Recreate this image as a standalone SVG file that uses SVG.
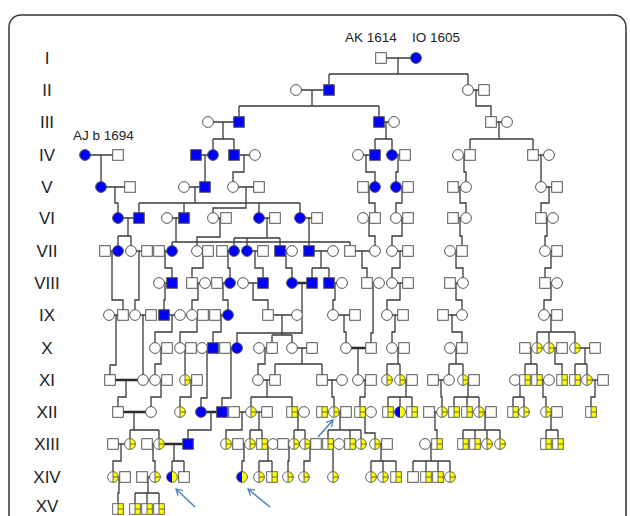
<svg xmlns="http://www.w3.org/2000/svg" xmlns:xlink="http://www.w3.org/1999/xlink" width="630" height="516" viewBox="0 0 630 516">
<style>
.l{fill:none;stroke:#3a3a3a;stroke-width:1.3}
.t{fill:none;stroke:#2a2a2a;stroke-width:2.4}
.s{fill:#fff;stroke:#555;stroke-width:1}
.b{fill:#0000ff}
.k{fill:none;stroke:#555;stroke-width:0.9}
.lab{font-family:"Liberation Sans",Arial,sans-serif;font-size:17px;fill:#222;text-anchor:middle}
.nm{font-family:"Liberation Sans",Arial,sans-serif;font-size:13.5px;fill:#222}
.ar{fill:none;stroke:#4f81bd;stroke-width:1.6}
</style>
<defs>
<g id="S"><rect class="s" x="-5.3" y="-5.3" width="10.6" height="10.6"/></g>
<g id="BS"><rect class="s b" x="-5.3" y="-5.3" width="10.6" height="10.6"/></g>
<g id="C"><circle class="s" r="5.4"/></g>
<g id="BC"><circle class="s b" r="5.4"/></g>
<g id="YS"><rect x="-5.3" y="-5.3" width="10.6" height="10.6" fill="#fff"/><rect x="0" y="-5.3" width="5.3" height="10.6" fill="#ffff00"/><path class="k" d="M0,-5.3V5.3M0,0H5.3"/><rect class="k" x="-5.3" y="-5.3" width="10.6" height="10.6"/></g>
<g id="YC"><circle r="5.4" fill="#fff"/><path d="M0,-5.4A5.4,5.4 0 0 1 0,5.4Z" fill="#ffff00"/><path class="k" d="M0,-5.4V5.4M0,0H5.4"/><circle class="k" r="5.4"/></g>
<g id="BY"><path d="M0,-5.4A5.4,5.4 0 0 0 0,5.4Z" fill="#0000ff"/><path d="M0,-5.4A5.4,5.4 0 0 1 0,5.4Z" fill="#ffff00"/><circle class="k" r="5.4"/></g>
<marker id="ah" viewBox="0 0 10 10" refX="8" refY="5" markerWidth="9" markerHeight="9" orient="auto" markerUnits="userSpaceOnUse"><path d="M1,1L8,5L1,9" fill="none" stroke="#4f81bd" stroke-width="1.4"/></marker>
</defs>
<rect x="9" y="15" width="617" height="530" rx="12" fill="#fff" stroke="#333" stroke-width="1.5"/>
<g id="gen-labels">
<text class="lab" x="47" y="64">I</text>
<text class="lab" x="47" y="96">II</text>
<text class="lab" x="47" y="128">III</text>
<text class="lab" x="47" y="161">IV</text>
<text class="lab" x="47" y="193">V</text>
<text class="lab" x="47" y="224">VI</text>
<text class="lab" x="47" y="257">VII</text>
<text class="lab" x="47" y="289">VIII</text>
<text class="lab" x="47" y="321">IX</text>
<text class="lab" x="47" y="354">X</text>
<text class="lab" x="47" y="386">XI</text>
<text class="lab" x="47" y="418">XII</text>
<text class="lab" x="47" y="450">XIII</text>
<text class="lab" x="47" y="483">XIV</text>
<text class="lab" x="47" y="512" font-size="16">XV</text>
</g>
<g id="names">
<text class="nm" x="345" y="42">AK 1614</text>
<text class="nm" x="412" y="42">IO 1605</text>
<text class="nm" x="73" y="140">AJ b 1694</text>
</g>
<g id="connectors">
<path class="l" d="M381,58H416 M296,90H329 M468,90H484 M208,122H239 M379,122H394 M491,122H507
M85,155H118 M196,155H213 M234,155H255 M358,155H375 M392,155H405 M458,155H470 M533,155H549
M101,187H130 M184,187H205 M233,187H259 M363,187H375 M396,187H408 M453,187H466 M541,187H557
M118,218H139 M167,218H184 M213,218H226 M259,218H275 M300,218H317 M363,218H375 M396,218H408 M453,218H466 M541,218H553
M105,251H118 M131,251H147 M159,251H172 M197,251H208 M222,251H234 M247,251H263 M280,251H292 M309,251H333 M350,251H375 M392,251H408 M450,251H462 M545,251H557
M159,283H172 M192,283H205 M217,283H230 M243,283H263 M329,283H342 M367,283H379 M392,283H408 M450,283H463 M545,283H557
M109,315H123 M135,315H151 M164,315H180 M192,315H203 M215,315H228 M268,315H297 M333,315H355 M387,315H403 M443,315H462 M544,315H557
M155,348H167 M180,348H191 M202,348H213 M225,348H237 M259,348H272 M292,348H312 M346,348H371 M392,348H404 M450,348H462 M525,348H537 M549,348H562 M575,348H595
M155,380H167 M185,380H197 M258,380H275 M322,380H342 M358,380H371 M400,380H412 M433,380H449 M463,380H474 M515,380H525 M537,380H549 M587,380H603
M234,412H267 M292,412H304 M322,412H346 M360,412H371 M429,412H442 M479,412H491 M546,412H557
M113,444H130 M147,444H159 M238,444H250 M262,444H273 M283,444H294 M305,444H316 M328,444H339 M375,444H387 M425,444H437
M113,477H125 M142,477H155"/>
<path class="t" d="M292,283H312 M110,380H143 M118,412H151 M201,412H222 M159,444H188 M346,348H371"/>
<path class="l" d="M398,58V74 M329,74H468 M329,74V90 M468,74V90
M312,90V106 M239,106H379 M239,106V122 M379,106V122 M476,90V106H491V122
M223,122V139 M213,139H234 M213,139V155 M234,139V155 M386,122V139 M375,139H392 M375,139V155 M392,139V155 M499,122V139 M470,139H533 M470,139V155 M533,139V155
M101,155V187 M205,155V187 M244,155V172H233V187 M366,155V172H375V187 M398,155V172H396V187 M464,155V172H466V187 M541,155V187
M115,187V203H118V218 M195,187V203 M139,203H300 M139,203V218 M184,203V218 M259,203V218 M300,203V218 M246,187V208H213V218 M369,187V203H375V218 M402,187V203H396V218 M460,187V203H466V218 M549,187V203H541V218
M128,218V236 M118,236H131 M118,236V251 M131,236V251 M176,218V242 M172,242H350 M172,242V251 M350,242V251 M220,218V237H197V251 M267,218V238 M234,238H280 M234,238V251 M247,238V251 M280,238V251 M309,218V251 M369,218V236H375V251 M402,218V236H392V251 M460,218V236H462V251 M547,218V236H545V251
M165,251V268H172V283 M203,251V268H192V283 M228,251V268H230V283 M255,251V268H263V283 M286,251V268H292V283 M321,251V268 M312,268H329 M312,268V283 M329,268V283 M362,251V268H367V283 M400,251V268H392V283 M456,251V268H463V283 M551,251V268H545V283
M112,251V300H123V315 M139,251V300H135V315
M165,283V300H164V315 M198,283V300H192V315 M223,283V300H228V315 M253,283V300H268V315 M335,283V300H333V315 M400,283V300H387V315 M456,283V300H462V315 M551,283V300H544V315
M302,283V333H237V348 M373,283V333H371V348
M172,315V332H155V348 M197,315V332H180V348 M221,315V332H213V348 M282,315V335 M272,335H292 M272,335V348 M292,335V348 M344,315V332H346V348 M395,315V332H392V348 M452,315V332H462V348 M551,315V332 M537,332H575 M537,332V348 M549,332V348 M575,332V348
M116,315V365H110V380 M143,315V380
M161,348V364H155V380 M185,348V380 M265,348V364H258V380 M302,348V364 M275,364H322 M275,364V380 M322,364V380 M358,348V380 M398,348V364 M387,364H400 M387,364V380 M400,364V380 M456,348V364 M449,364H463 M449,364V380 M463,364V380 M531,348V364 M525,364H537 M525,364V380 M537,364V380 M555,348V364H562V380 M585,348V364 M575,364H587 M575,364V380 M587,364V380
M207,348V398H201V412 M231,348V398H222V412
M126,380V397H118V412 M161,380V397H151V412 M191,380V397H180V412 M267,380V397 M251,397H292 M251,397V412 M292,397V412 M332,380V397H334V412 M365,380V397H360V412 M406,380V397 M388,397H412 M388,397V412 M400,397V412 M412,397V412 M441,380V397H442V412 M468,380V397 M454,397H479 M454,397V412 M467,397V412 M479,397V412 M520,380V397 M513,397H524 M513,397V412 M524,397V412 M543,380V397H546V412 M595,380V397H591V412
M134,412V430 M130,430H159 M130,430V444 M159,430V444 M211,412V430H188V444 M242,412V430H226V444 M259,412V430 M250,430H262 M250,430V444 M262,430V444 M298,412V430 M294,430H305 M294,430V444 M305,430V444 M340,412V430 M328,430H361 M328,430V444 M350,430V444 M361,430V444 M365,412V433H375V444 M435,412V430H437V444 M485,412V430 M463,430H500 M463,430V444 M475,430V444 M487,430V444 M500,430V444 M551,412V430 M546,430H558 M546,430V444 M558,430V444
M121,444V461H113V477 M153,444V461H155V477 M174,444V461 M172,461H184 M172,461V477 M184,461V477 M244,444V461H242V477 M268,444V461 M259,461H272 M259,461V477 M272,461V477 M289,444V461H288V477 M310,444V461H304V477 M333,444V477 M381,444V461 M371,461H396 M371,461V477 M383,461V477 M396,461V477 M431,444V461 M413,461H450 M413,461V477 M426,461V477 M438,461V477 M450,461V477
M119,477V493H118V509 M148,477V493 M135,493H159 M135,493V509 M147,493V509 M159,493V509"/>
</g>
<g id="arrows">
<path class="ar" d="M195,507L176,489" marker-end="url(#ah)"/>
<path class="ar" d="M270,507L248,489" marker-end="url(#ah)"/>
<path class="ar" d="M318,437L333,420" marker-end="url(#ah)"/>
</g>
<g id="gen-I">
<g id="n1_381"><use href="#S" x="381" y="58"/></g>
<g id="n1_416"><use href="#BC" x="416" y="58"/></g>
</g>
<g id="gen-II">
<g id="n2_296"><use href="#C" x="296" y="90"/></g>
<g id="n2_329"><use href="#BS" x="329" y="90"/></g>
<g id="n2_468"><use href="#C" x="468" y="90"/></g>
<g id="n2_484"><use href="#S" x="484" y="90"/></g>
</g>
<g id="gen-III">
<g id="n3_208"><use href="#C" x="208" y="122"/></g>
<g id="n3_239"><use href="#BS" x="239" y="122"/></g>
<g id="n3_379"><use href="#BS" x="379" y="122"/></g>
<g id="n3_394"><use href="#C" x="394" y="122"/></g>
<g id="n3_491"><use href="#S" x="491" y="122"/></g>
<g id="n3_507"><use href="#C" x="507" y="122"/></g>
</g>
<g id="gen-IV">
<g id="n4_85"><use href="#BC" x="85" y="155"/></g>
<g id="n4_118"><use href="#S" x="118" y="155"/></g>
<g id="n4_196"><use href="#BS" x="196" y="155"/></g>
<g id="n4_213"><use href="#BC" x="213" y="155"/></g>
<g id="n4_234"><use href="#BS" x="234" y="155"/></g>
<g id="n4_255"><use href="#C" x="255" y="155"/></g>
<g id="n4_358"><use href="#C" x="358" y="155"/></g>
<g id="n4_375"><use href="#BS" x="375" y="155"/></g>
<g id="n4_392"><use href="#BC" x="392" y="155"/></g>
<g id="n4_405"><use href="#S" x="405" y="155"/></g>
<g id="n4_458"><use href="#C" x="458" y="155"/></g>
<g id="n4_470"><use href="#S" x="470" y="155"/></g>
<g id="n4_533"><use href="#S" x="533" y="155"/></g>
<g id="n4_549"><use href="#C" x="549" y="155"/></g>
</g>
<g id="gen-V">
<g id="n5_101"><use href="#BC" x="101" y="187"/></g>
<g id="n5_130"><use href="#S" x="130" y="187"/></g>
<g id="n5_184"><use href="#C" x="184" y="187"/></g>
<g id="n5_205"><use href="#BS" x="205" y="187"/></g>
<g id="n5_233"><use href="#C" x="233" y="187"/></g>
<g id="n5_259"><use href="#S" x="259" y="187"/></g>
<g id="n5_363"><use href="#S" x="363" y="187"/></g>
<g id="n5_375"><use href="#BC" x="375" y="187"/></g>
<g id="n5_396"><use href="#BC" x="396" y="187"/></g>
<g id="n5_408"><use href="#S" x="408" y="187"/></g>
<g id="n5_453"><use href="#S" x="453" y="187"/></g>
<g id="n5_466"><use href="#C" x="466" y="187"/></g>
<g id="n5_541"><use href="#C" x="541" y="187"/></g>
<g id="n5_557"><use href="#S" x="557" y="187"/></g>
</g>
<g id="gen-VI">
<g id="n6_118"><use href="#BC" x="118" y="218"/></g>
<g id="n6_139"><use href="#BS" x="139" y="218"/></g>
<g id="n6_167"><use href="#C" x="167" y="218"/></g>
<g id="n6_184"><use href="#BS" x="184" y="218"/></g>
<g id="n6_213"><use href="#C" x="213" y="218"/></g>
<g id="n6_226"><use href="#S" x="226" y="218"/></g>
<g id="n6_259"><use href="#BC" x="259" y="218"/></g>
<g id="n6_275"><use href="#S" x="275" y="218"/></g>
<g id="n6_300"><use href="#BC" x="300" y="218"/></g>
<g id="n6_317"><use href="#S" x="317" y="218"/></g>
<g id="n6_363"><use href="#C" x="363" y="218"/></g>
<g id="n6_375"><use href="#S" x="375" y="218"/></g>
<g id="n6_396"><use href="#C" x="396" y="218"/></g>
<g id="n6_408"><use href="#S" x="408" y="218"/></g>
<g id="n6_453"><use href="#S" x="453" y="218"/></g>
<g id="n6_466"><use href="#C" x="466" y="218"/></g>
<g id="n6_541"><use href="#S" x="541" y="218"/></g>
<g id="n6_553"><use href="#C" x="553" y="218"/></g>
</g>
<g id="gen-VII">
<g id="n7_105"><use href="#S" x="105" y="251"/></g>
<g id="n7_118"><use href="#BC" x="118" y="251"/></g>
<g id="n7_131"><use href="#C" x="131" y="251"/></g>
<g id="n7_147"><use href="#S" x="147" y="251"/></g>
<g id="n7_159"><use href="#S" x="159" y="251"/></g>
<g id="n7_172"><use href="#BC" x="172" y="251"/></g>
<g id="n7_197"><use href="#C" x="197" y="251"/></g>
<g id="n7_208"><use href="#S" x="208" y="251"/></g>
<g id="n7_222"><use href="#S" x="222" y="251"/></g>
<g id="n7_234"><use href="#BC" x="234" y="251"/></g>
<g id="n7_247"><use href="#BC" x="247" y="251"/></g>
<g id="n7_263"><use href="#S" x="263" y="251"/></g>
<g id="n7_280"><use href="#BS" x="280" y="251"/></g>
<g id="n7_292"><use href="#C" x="292" y="251"/></g>
<g id="n7_309"><use href="#BS" x="309" y="251"/></g>
<g id="n7_333"><use href="#C" x="333" y="251"/></g>
<g id="n7_350"><use href="#S" x="350" y="251"/></g>
<g id="n7_375"><use href="#C" x="375" y="251"/></g>
<g id="n7_392"><use href="#C" x="392" y="251"/></g>
<g id="n7_408"><use href="#S" x="408" y="251"/></g>
<g id="n7_450"><use href="#C" x="450" y="251"/></g>
<g id="n7_462"><use href="#S" x="462" y="251"/></g>
<g id="n7_545"><use href="#C" x="545" y="251"/></g>
<g id="n7_557"><use href="#S" x="557" y="251"/></g>
</g>
<g id="gen-VIII">
<g id="n8_159"><use href="#C" x="159" y="283"/></g>
<g id="n8_172"><use href="#BS" x="172" y="283"/></g>
<g id="n8_192"><use href="#S" x="192" y="283"/></g>
<g id="n8_205"><use href="#C" x="205" y="283"/></g>
<g id="n8_217"><use href="#S" x="217" y="283"/></g>
<g id="n8_230"><use href="#BC" x="230" y="283"/></g>
<g id="n8_243"><use href="#C" x="243" y="283"/></g>
<g id="n8_263"><use href="#BS" x="263" y="283"/></g>
<g id="n8_292"><use href="#BC" x="292" y="283"/></g>
<g id="n8_312"><use href="#BS" x="312" y="283"/></g>
<g id="n8_329"><use href="#BS" x="329" y="283"/></g>
<g id="n8_342"><use href="#C" x="342" y="283"/></g>
<g id="n8_367"><use href="#S" x="367" y="283"/></g>
<g id="n8_379"><use href="#C" x="379" y="283"/></g>
<g id="n8_392"><use href="#C" x="392" y="283"/></g>
<g id="n8_408"><use href="#S" x="408" y="283"/></g>
<g id="n8_450"><use href="#S" x="450" y="283"/></g>
<g id="n8_463"><use href="#C" x="463" y="283"/></g>
<g id="n8_545"><use href="#S" x="545" y="283"/></g>
<g id="n8_557"><use href="#C" x="557" y="283"/></g>
</g>
<g id="gen-IX">
<g id="n9_109"><use href="#C" x="109" y="315"/></g>
<g id="n9_123"><use href="#S" x="123" y="315"/></g>
<g id="n9_135"><use href="#C" x="135" y="315"/></g>
<g id="n9_151"><use href="#S" x="151" y="315"/></g>
<g id="n9_164"><use href="#BS" x="164" y="315"/></g>
<g id="n9_180"><use href="#C" x="180" y="315"/></g>
<g id="n9_192"><use href="#C" x="192" y="315"/></g>
<g id="n9_203"><use href="#S" x="203" y="315"/></g>
<g id="n9_215"><use href="#S" x="215" y="315"/></g>
<g id="n9_228"><use href="#BC" x="228" y="315"/></g>
<g id="n9_268"><use href="#S" x="268" y="315"/></g>
<g id="n9_297"><use href="#C" x="297" y="315"/></g>
<g id="n9_333"><use href="#C" x="333" y="315"/></g>
<g id="n9_355"><use href="#S" x="355" y="315"/></g>
<g id="n9_387"><use href="#C" x="387" y="315"/></g>
<g id="n9_403"><use href="#S" x="403" y="315"/></g>
<g id="n9_443"><use href="#S" x="443" y="315"/></g>
<g id="n9_462"><use href="#C" x="462" y="315"/></g>
<g id="n9_544"><use href="#C" x="544" y="315"/></g>
<g id="n9_557"><use href="#S" x="557" y="315"/></g>
</g>
<g id="gen-X">
<g id="n10_155"><use href="#C" x="155" y="348"/></g>
<g id="n10_167"><use href="#S" x="167" y="348"/></g>
<g id="n10_180"><use href="#C" x="180" y="348"/></g>
<g id="n10_191"><use href="#S" x="191" y="348"/></g>
<g id="n10_202"><use href="#C" x="202" y="348"/></g>
<g id="n10_213"><use href="#BS" x="213" y="348"/></g>
<g id="n10_225"><use href="#S" x="225" y="348"/></g>
<g id="n10_237"><use href="#BC" x="237" y="348"/></g>
<g id="n10_259"><use href="#C" x="259" y="348"/></g>
<g id="n10_272"><use href="#S" x="272" y="348"/></g>
<g id="n10_292"><use href="#C" x="292" y="348"/></g>
<g id="n10_312"><use href="#S" x="312" y="348"/></g>
<g id="n10_346"><use href="#C" x="346" y="348"/></g>
<g id="n10_371"><use href="#S" x="371" y="348"/></g>
<g id="n10_392"><use href="#C" x="392" y="348"/></g>
<g id="n10_404"><use href="#S" x="404" y="348"/></g>
<g id="n10_450"><use href="#C" x="450" y="348"/></g>
<g id="n10_462"><use href="#S" x="462" y="348"/></g>
<g id="n10_525"><use href="#S" x="525" y="348"/></g>
<g id="n10_537"><use href="#YC" x="537" y="348"/></g>
<g id="n10_549"><use href="#YC" x="549" y="348"/></g>
<g id="n10_562"><use href="#S" x="562" y="348"/></g>
<g id="n10_575"><use href="#YC" x="575" y="348"/></g>
<g id="n10_595"><use href="#S" x="595" y="348"/></g>
</g>
<g id="gen-XI">
<g id="n11_110"><use href="#S" x="110" y="380"/></g>
<g id="n11_143"><use href="#C" x="143" y="380"/></g>
<g id="n11_155"><use href="#C" x="155" y="380"/></g>
<g id="n11_167"><use href="#S" x="167" y="380"/></g>
<g id="n11_185"><use href="#YC" x="185" y="380"/></g>
<g id="n11_197"><use href="#S" x="197" y="380"/></g>
<g id="n11_258"><use href="#C" x="258" y="380"/></g>
<g id="n11_275"><use href="#S" x="275" y="380"/></g>
<g id="n11_322"><use href="#S" x="322" y="380"/></g>
<g id="n11_342"><use href="#C" x="342" y="380"/></g>
<g id="n11_358"><use href="#C" x="358" y="380"/></g>
<g id="n11_371"><use href="#S" x="371" y="380"/></g>
<g id="n11_387"><use href="#YC" x="387" y="380"/></g>
<g id="n11_400"><use href="#YC" x="400" y="380"/></g>
<g id="n11_412"><use href="#S" x="412" y="380"/></g>
<g id="n11_433"><use href="#S" x="433" y="380"/></g>
<g id="n11_449"><use href="#C" x="449" y="380"/></g>
<g id="n11_463"><use href="#YC" x="463" y="380"/></g>
<g id="n11_474"><use href="#S" x="474" y="380"/></g>
<g id="n11_515"><use href="#C" x="515" y="380"/></g>
<g id="n11_525"><use href="#YS" x="525" y="380"/></g>
<g id="n11_537"><use href="#YS" x="537" y="380"/></g>
<g id="n11_549"><use href="#C" x="549" y="380"/></g>
<g id="n11_562"><use href="#YS" x="562" y="380"/></g>
<g id="n11_575"><use href="#YS" x="575" y="380"/></g>
<g id="n11_587"><use href="#YC" x="587" y="380"/></g>
<g id="n11_603"><use href="#S" x="603" y="380"/></g>
</g>
<g id="gen-XII">
<g id="n12_118"><use href="#S" x="118" y="412"/></g>
<g id="n12_151"><use href="#C" x="151" y="412"/></g>
<g id="n12_180"><use href="#YC" x="180" y="412"/></g>
<g id="n12_201"><use href="#BC" x="201" y="412"/></g>
<g id="n12_222"><use href="#BS" x="222" y="412"/></g>
<g id="n12_234"><use href="#S" x="234" y="412"/></g>
<g id="n12_251"><use href="#YC" x="251" y="412"/></g>
<g id="n12_267"><use href="#S" x="267" y="412"/></g>
<g id="n12_292"><use href="#YS" x="292" y="412"/></g>
<g id="n12_304"><use href="#C" x="304" y="412"/></g>
<g id="n12_322"><use href="#YS" x="322" y="412"/></g>
<g id="n12_334"><use href="#YC" x="334" y="412"/></g>
<g id="n12_346"><use href="#S" x="346" y="412"/></g>
<g id="n12_360"><use href="#YS" x="360" y="412"/></g>
<g id="n12_371"><use href="#C" x="371" y="412"/></g>
<g id="n12_388"><use href="#YS" x="388" y="412"/></g>
<g id="n12_400"><use href="#BY" x="400" y="412"/></g>
<g id="n12_412"><use href="#YS" x="412" y="412"/></g>
<g id="n12_429"><use href="#S" x="429" y="412"/></g>
<g id="n12_442"><use href="#YC" x="442" y="412"/></g>
<g id="n12_454"><use href="#YS" x="454" y="412"/></g>
<g id="n12_467"><use href="#YS" x="467" y="412"/></g>
<g id="n12_479"><use href="#YC" x="479" y="412"/></g>
<g id="n12_491"><use href="#S" x="491" y="412"/></g>
<g id="n12_513"><use href="#YS" x="513" y="412"/></g>
<g id="n12_524"><use href="#YC" x="524" y="412"/></g>
<g id="n12_546"><use href="#YC" x="546" y="412"/></g>
<g id="n12_557"><use href="#S" x="557" y="412"/></g>
<g id="n12_591"><use href="#YS" x="591" y="412"/></g>
</g>
<g id="gen-XIII">
<g id="n13_113"><use href="#S" x="113" y="444"/></g>
<g id="n13_130"><use href="#YC" x="130" y="444"/></g>
<g id="n13_147"><use href="#S" x="147" y="444"/></g>
<g id="n13_159"><use href="#YC" x="159" y="444"/></g>
<g id="n13_188"><use href="#BS" x="188" y="444"/></g>
<g id="n13_226"><use href="#YC" x="226" y="444"/></g>
<g id="n13_238"><use href="#S" x="238" y="444"/></g>
<g id="n13_250"><use href="#YC" x="250" y="444"/></g>
<g id="n13_262"><use href="#YS" x="262" y="444"/></g>
<g id="n13_273"><use href="#C" x="273" y="444"/></g>
<g id="n13_283"><use href="#S" x="283" y="444"/></g>
<g id="n13_294"><use href="#YC" x="294" y="444"/></g>
<g id="n13_305"><use href="#YC" x="305" y="444"/></g>
<g id="n13_316"><use href="#S" x="316" y="444"/></g>
<g id="n13_328"><use href="#YS" x="328" y="444"/></g>
<g id="n13_339"><use href="#C" x="339" y="444"/></g>
<g id="n13_350"><use href="#YS" x="350" y="444"/></g>
<g id="n13_361"><use href="#YC" x="361" y="444"/></g>
<g id="n13_375"><use href="#YC" x="375" y="444"/></g>
<g id="n13_387"><use href="#S" x="387" y="444"/></g>
<g id="n13_425"><use href="#C" x="425" y="444"/></g>
<g id="n13_437"><use href="#YS" x="437" y="444"/></g>
<g id="n13_463"><use href="#YS" x="463" y="444"/></g>
<g id="n13_475"><use href="#YS" x="475" y="444"/></g>
<g id="n13_487"><use href="#YC" x="487" y="444"/></g>
<g id="n13_500"><use href="#YC" x="500" y="444"/></g>
<g id="n13_546"><use href="#YS" x="546" y="444"/></g>
<g id="n13_558"><use href="#YS" x="558" y="444"/></g>
</g>
<g id="gen-XIV">
<g id="n14_113"><use href="#YC" x="113" y="477"/></g>
<g id="n14_125"><use href="#S" x="125" y="477"/></g>
<g id="n14_142"><use href="#S" x="142" y="477"/></g>
<g id="n14_155"><use href="#YC" x="155" y="477"/></g>
<g id="n14_172"><use href="#BY" x="172" y="477"/></g>
<g id="n14_184"><use href="#S" x="184" y="477"/></g>
<g id="n14_242"><use href="#BY" x="242" y="477"/></g>
<g id="n14_259"><use href="#YC" x="259" y="477"/></g>
<g id="n14_272"><use href="#YS" x="272" y="477"/></g>
<g id="n14_288"><use href="#YC" x="288" y="477"/></g>
<g id="n14_304"><use href="#YC" x="304" y="477"/></g>
<g id="n14_333"><use href="#YC" x="333" y="477"/></g>
<g id="n14_371"><use href="#YC" x="371" y="477"/></g>
<g id="n14_383"><use href="#YC" x="383" y="477"/></g>
<g id="n14_396"><use href="#YS" x="396" y="477"/></g>
<g id="n14_413"><use href="#S" x="413" y="477"/></g>
<g id="n14_426"><use href="#YS" x="426" y="477"/></g>
<g id="n14_438"><use href="#YS" x="438" y="477"/></g>
<g id="n14_450"><use href="#YC" x="450" y="477"/></g>
</g>
<g id="gen-XV">
<g id="n15_118"><use href="#YS" x="118" y="509"/></g>
<g id="n15_135"><use href="#YS" x="135" y="509"/></g>
<g id="n15_147"><use href="#YS" x="147" y="509"/></g>
<g id="n15_159"><use href="#YS" x="159" y="509"/></g>
</g>
</svg>
